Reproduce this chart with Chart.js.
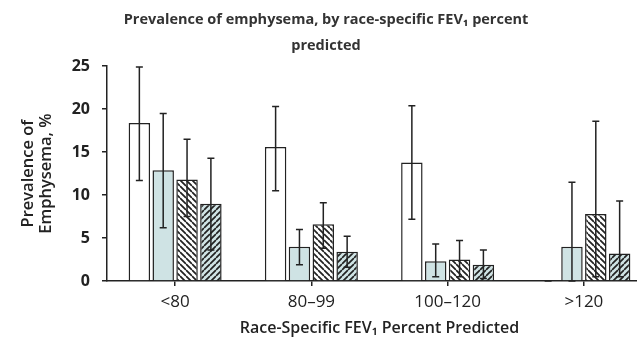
<!DOCTYPE html>
<html>
<head>
<meta charset="utf-8">
<script src="https://cdn.jsdelivr.net/npm/chart.js@4"></script>
<style>
  html, body { margin: 0; padding: 0; background: #fff; overflow: hidden; }
  #chart { display: block; }
</style>
</head>
<body>
<canvas id="chart" width="652" height="341"></canvas>
<script>
// categories along the x axis
const categories = ['<80', '80\u201399', '100\u2013120', '>120'];
const yTicks = [0, 5, 10, 15, 20, 25];

// series 1 (open bars)
const openVals = [18.4, 15.6, 13.8, 0];
const openLow = [11.7, 10.5, 7.2, 0];
const openHigh = [24.9, 20.3, 20.4, 0];

// series 2 (light teal bars)
const tealVals = [12.9, 4.0, 2.3, 4.0];
const tealLow = [6.2, 1.9, 0.5, 0];
const tealHigh = [19.5, 6.0, 4.3, 11.5];

// series 3 (white, back-hatched)
const hatchVals = [11.8, 6.6, 2.5, 7.8];
const hatchLow = [7.5, 3.8, 0.5, 0.5];
const hatchHigh = [16.5, 9.1, 4.7, 18.6];

// series 4 (teal, forward-hatched)
const tealHatchVals = [9.0, 3.4, 1.9, 3.2];
const tealHatchLow = [3.6, 1.6, 0.3, 0.5];
const tealHatchHigh = [14.3, 5.2, 3.6, 9.3];

const ink = '#222';
const teal = '#cfe3e4';
const fontFamily = "'Open Sans', 'Liberation Sans', sans-serif";

function makeHatch(bg, forward){
    const s = 6;
    const c = document.createElement('canvas');
    c.width = s;
    c.height = s;
    const g = c.getContext('2d');
    g.fillStyle = bg;
    g.fillRect(0, 0, s, s);
    g.strokeStyle = ink;
    g.lineWidth = 1.7;
    g.beginPath();
    for (let k = -1; k <= 1; k++) {
        if (forward) {
            g.moveTo(0, s + k * s);
            g.lineTo(s, k * s);
        } else {
            g.moveTo(0, k * s);
            g.lineTo(s, s + k * s);
        }
    }
    g.stroke();
    return g.createPattern(c, 'repeat');
}

const errorBars = {
    id: 'errorBars',
    afterDatasetsDraw(chart){
        const ctx = chart.ctx;
        const y = chart.scales.y;
        ctx.save();
        ctx.strokeStyle = ink;
        ctx.lineWidth = 1.5;
        chart.data.datasets.forEach(function (ds, i){
            const meta = chart.getDatasetMeta(i);
            meta.data.forEach(function (bar, j){
                const x = bar.x;
                const yLo = y.getPixelForValue(ds.errLow[j]);
                const yHi = y.getPixelForValue(ds.errHigh[j]);
                ctx.beginPath();
                ctx.moveTo(x, yLo);
                ctx.lineTo(x, yHi);
                ctx.moveTo(x - 3.5, yHi);
                ctx.lineTo(x + 3.5, yHi);
                ctx.moveTo(x - 3.5, yLo);
                ctx.lineTo(x + 3.5, yLo);
                ctx.stroke();
            });
        });
        ctx.restore();
    }
};

function series(name, values, low, high, fill){
    return {
        label: name,
        data: values,
        errLow: low,
        errHigh: high,
        backgroundColor: fill,
        borderColor: ink,
        borderWidth: 1.5,
        borderSkipped: 'bottom'
    };
}

const ctx = document.getElementById('chart').getContext('2d');

new Chart(ctx, {
    type: 'bar',
    data: {
        labels: categories,
        datasets: [
            series('Series 1', openVals, openLow, openHigh, '#ffffff'),
            series('Series 2', tealVals, tealLow, tealHigh, teal),
            series('Series 3', hatchVals, hatchLow, hatchHigh, makeHatch('#ffffff', false)),
            series('Series 4', tealHatchVals, tealHatchLow, tealHatchHigh, makeHatch(teal, true))
        ]
    },
    options: {
        responsive: false,
        animation: false,
        categoryPercentage: 0.7,
        barPercentage: 0.9,
        layout: { padding: 0 },
        plugins: {
            legend: { display: false },
            tooltip: { enabled: false },
            title: {
                display: true,
                text: ['Prevalence of emphysema, by race-specific FEV\u2081 percent', 'predicted'],
                color: '#333',
                font: { family: fontFamily, size: 14.5, weight: 'bold', lineHeight: 1.8 },
                padding: { top: 7, bottom: 7 }
            }
        },
        scales: {
            x: {
                afterFit: function (scale){ scale.height = 60; },
                grid: { display: true, offset: false, drawOnChartArea: false, drawTicks: true, tickLength: 5, color: ink, lineWidth: 1.5 },
                border: { display: true, color: ink, width: 1.5 },
                ticks: { color: '#222', padding: 6, font: { family: fontFamily, size: 17 } },
                title: {
                    display: true,
                    text: 'Race-Specific FEV\u2081 Percent Predicted',
                    color: '#222',
                    font: { family: fontFamily, size: 16, weight: '600', lineHeight: 1.2 },
                    padding: { top: 0, bottom: 3 }
                }
            },
            y: {
                min: 0,
                max: 25,
                afterFit: function (scale){ scale.width = 107; },
                afterBuildTicks: function (scale){
                    scale.ticks = yTicks.map(function (v){ return { value: v }; });
                },
                grid: { display: true, drawOnChartArea: false, drawTicks: true, tickLength: 5, color: ink, lineWidth: 1.5 },
                border: { display: true, color: ink, width: 1.5 },
                ticks: { color: '#222', padding: 12, font: { family: fontFamily, size: 16, weight: 'bold' } },
                title: {
                    display: true,
                    text: ['Prevalence of', 'Emphysema, %'],
                    color: '#222',
                    font: { family: fontFamily, size: 16.5, weight: '600', lineHeight: 1.05 },
                    padding: { top: 20, bottom: 0 }
                }
            }
        }
    },
    plugins: [errorBars]
});
</script>
</body>
</html>
